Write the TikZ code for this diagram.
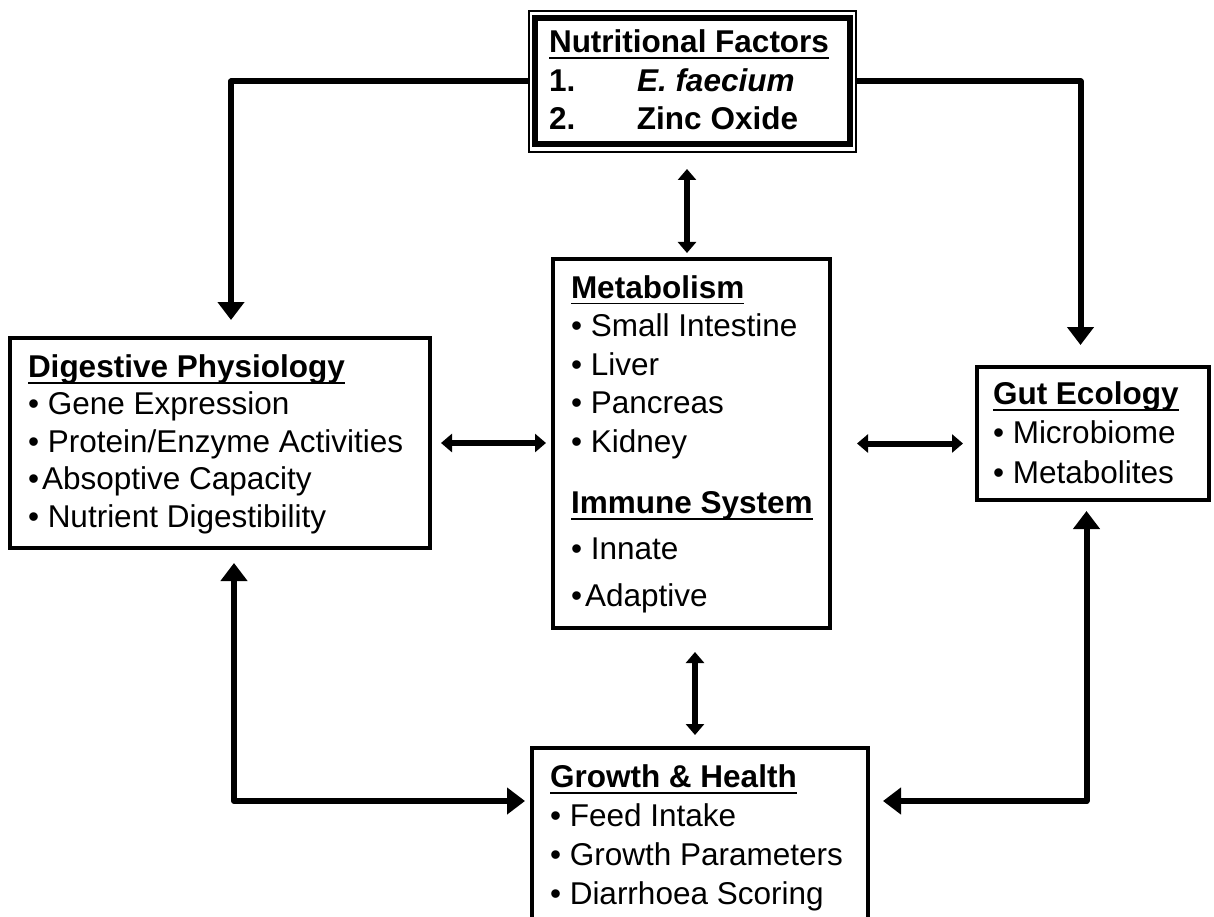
\documentclass[tikz,border=0pt]{standalone}
\usepackage{fontspec}
\setmainfont{Liberation Sans}
\usetikzlibrary{arrows.meta,calc}
\newcommand\myul[1]{\setbox0\hbox{#1}\rlap{\rule[-6.5pt]{\wd0}{2pt}}\box0}
\newcommand\stack[2]{\vtop{\baselineskip=#1\lineskiplimit=-\maxdimen\lineskip=0pt #2}}
\begin{document}
\begin{tikzpicture}[x=1pt,y=-1pt,
  box/.style={draw, line width=4pt, rectangle, anchor=north west, inner sep=0pt, outer sep=0pt},
  txt/.style={anchor=base west, inner sep=0pt, outer sep=0pt, font=\fontsize{31.5pt}{38pt}\selectfont},
  bigarrow/.style={line width=6pt, line join=round, {Triangle[length=18pt,width=26pt]}-{Triangle[length=18pt,width=26pt]}},
  onearrow/.style={line width=6pt, line join=round, -{Triangle[length=18pt,width=26pt]}},
  dblarrow/.style={line width=6pt, {Triangle[length=11pt,width=18pt]}-{Triangle[length=11pt,width=18pt]}}
]
\clip (0,0) rectangle (1214,917);
\fill[white] (0,0) rectangle (1214,917);
% boxes
\node[box, line width=2pt, minimum width=327pt, minimum height=141pt] (top) at (529,11) {};
\draw[line width=6pt] ([shift={(6,7)}]top.north west) rectangle ([shift={(-6,-8)}]top.south east);
\node[box, minimum width=420pt, minimum height=210pt] (dig) at (10,338) {};
\node[box, minimum width=277pt, minimum height=369pt] (met) at (553,259) {};
\node[box, minimum width=232pt, minimum height=133pt] (gut) at (977,367) {};
\node[box, minimum width=336pt, minimum height=220pt] (growth) at (532,748) {};
% texts
\node[txt] (toptxt) at (549,53) {\stack{38.5pt}{\hbox{\myul{\bfseries Nutritional Factors}}\hbox{\bfseries\makebox[88pt][l]{1.}\itshape E. faecium}\hbox{\bfseries\makebox[88pt][l]{2.}Zinc Oxide}}};
\node[txt] (digtxt) at (28,377) {\stack{37.5pt}{\hbox{\myul{\bfseries Digestive Physiology}}\hbox{• Gene Expression}\hbox{• Protein/Enzyme Activities}\hbox{•\hspace{3pt}Absoptive Capacity}\hbox{• Nutrient Digestibility}}};
\node[txt] (mettxt) at (571,298) {\stack{38.5pt}{\hbox{\myul{\bfseries Metabolism}}\hbox{• Small Intestine}\hbox{• Liver}\hbox{• Pancreas}\hbox{• Kidney}}};
\node[txt] (immtxt) at (571,513) {\stack{46.5pt}{\hbox{\myul{\bfseries Immune System}}\hbox{• Innate}\hbox{•\hspace{3pt}Adaptive}}};
\node[txt] (guttxt) at (993,404) {\stack{39.5pt}{\hbox{\myul{\bfseries Gut Ecology}}\hbox{• Microbiome}\hbox{• Metabolites}}};
\node[txt] (growtxt) at (550,787) {\stack{39pt}{\hbox{\myul{\bfseries Growth \& Health}}\hbox{• Feed Intake}\hbox{• Growth Parameters}\hbox{• Diarrhoea Scoring}}};
% connectors
\coordinate (lowrow) at (0,801);
\draw[onearrow, shorten >=18pt] (top.west) -| ([xshift=11pt]dig.north);
\draw[onearrow, shorten >=22pt] (top.east) -| ([xshift=-12.5pt]gut.north);
\draw[dblarrow, shorten <=17pt, shorten >=6pt] ([xshift=-5.5pt]top.south) -- ([xshift=-5.5pt]top.south |- met.north);
\draw[dblarrow, shorten <=24pt, shorten >=13pt] ([xshift=3.5pt]met.south) -- ([xshift=3.5pt]met.south |- growth.north);
\draw[dblarrow, shorten <=11pt, shorten >=7pt] (dig.east) -- (dig.east -| met.west);
\draw[dblarrow, shorten <=27pt, shorten >=14pt] (met.east) -- (met.east -| gut.west);
\draw[bigarrow, shorten <=15pt, shorten >=7pt] ([xshift=14pt]dig.south) |- (growth.west |- lowrow);
\draw[bigarrow, shorten <=11pt, shorten >=15pt] ([xshift=-6.5pt]gut.south) |- (growth.east |- lowrow);
\end{tikzpicture}
\end{document}
